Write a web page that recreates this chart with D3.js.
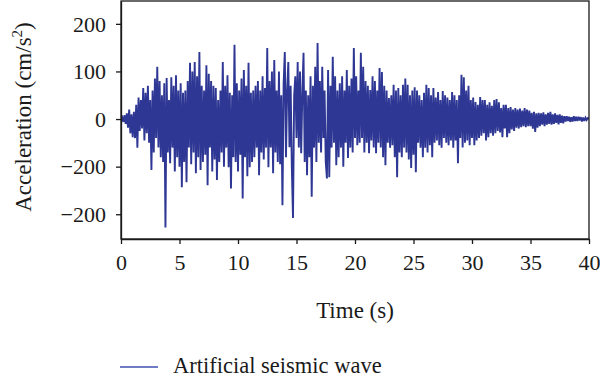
<!DOCTYPE html>
<html>
<head>
<meta charset="utf-8">
<script src="https://cdn.jsdelivr.net/npm/d3@7"></script>
<style>
  html, body { margin: 0; padding: 0; background: #fff; }
  svg { display: block; }
  text { font-family: "Liberation Serif", "DejaVu Serif", serif; fill: #1a1a1a; }
</style>
</head>
<body>
<svg id="chart" width="600" height="382"></svg>
<script>
const timeStep = 0.1;
const accel = [
  /* 0s */  0, 4, -6, 8, -10, 12, -18, 20, -30, 10,
  /* 1s */  -38, 15, -40, 30, -60, 45, -25, 40, -20, 65,
  /* 2s */  -45, 55, -30, 70, -50, 40, -107, 60, -70, 85,
  /* 3s */  -40, 110, -60, 80, -80, 50, -90, 75, -228, 86,
  /* 4s */  -70, 40, -93, 88, -60, 70, -110, 92, -80, 60,
  /* 5s */  -100, 75, -143, 55, -90, 60, -133, 80, -60, 118,
  /* 6s */  -95, 100, -70, 120, -114, 90, -80, 141, -107, 70,
  /* 7s */  -90, 60, -75, 113, -139, 95, -60, 80, -110, 70,
  /* 8s */  -85, 65, -128, 40, -90, 60, -70, 120, -100, 70,
  /* 9s */  -60, 92, -101, 55, -146, 50, -80, 156, -90, 75,
  /* 10s */ -110, 60, -75, 85, -167, 103, -80, 70, -120, 118,
  /* 11s */ -101, 55, -90, 60, -80, 70, -60, 80, -118, 60,
  /* 12s */ -70, 90, -85, 65, -60, 149, -101, 80, -60, 100,
  /* 13s */ -114, 124, -70, 60, -90, 100, -95, 50, -181, 75,
  /* 14s */ 141, -80, 60, 120, -59, 70, -100, -208, 50, 90,
  /* 15s */ -40, 120, -60, 100, -72, 55, 139, -90, 60, -118,
  /* 16s */ 50, -80, 90, -163, 70, -60, 110, -90, 160, -50,
  /* 17s */ 80, -70, 110, -40, 60, -90, -125, 103, -122, 70,
  /* 18s */ -60, 131, -50, 90, -97, 60, -80, 75, -60, 90,
  /* 19s */ -100, 60, -50, 103, -82, 70, -60, 85, -70, 149,
  /* 20s */ -40, 90, -55, 60, -50, 139, -40, 110, -70, 80,
  /* 21s */ -50, 70, -72, 61, -45, 90, -60, 80, -72, 60,
  /* 22s */ -50, 107, -60, 99, -80, 70, -97, 60, -50, 44,
  /* 23s */ -60, 50, -55, 72, -80, 60, -122, 65, -70, 50,
  /* 24s */ -80, 72, -60, 85, -70, 72, -85, 50, -103, 60,
  /* 25s */ -75, 67, -112, 60, -50, 50, -60, 40, -80, 55,
  /* 26s */ -60, 72, -70, 65, -55, 50, -80, 65, -50, 45,
  /* 27s */ -45, 57, -55, 40, -60, 59, -40, 50, -50, 45,
  /* 28s */ -55, 40, -45, 57, -60, 50, -45, 40, -93, 50,
  /* 29s */ -40, 93, -60, 88, -50, 60, -45, 70, -55, 40,
  /* 30s */ -40, 45, -55, 36, -45, 30, -40, 46, -35, 40,
  /* 31s */ -30, 40, -45, 30, -38, 35, -30, 28, -35, 40,
  /* 32s */ -30, 42, -25, 35, -28, 23, -38, 30, -20, 30,
  /* 33s */ -38, 23, -30, 25, -22, 20, -25, 23, -18, 20,
  /* 34s */ -20, 22, -17, 18, -15, 23, -17, 20, -15, 18,
  /* 35s */ -15, 13, -20, 15, -27, 12, -18, 13, -15, 12,
  /* 36s */ -12, 14, -15, 10, -12, 13, -10, 15, -12, 10,
  /* 37s */ -10, 12, -8, 9, -11, 10, -8, 7, -9, 6,
  /* 38s */ -5, 6, -4, 5, -6, 4, -5, 6, -4, 5,
  /* 39s */ -4, 5, -3, 4, -5, 3, -4, 3, -2, 2,
  /* 40s */ 0
];
const xTicks = [0, 5, 10, 15, 20, 25, 30, 35, 40];
const yTicks = [200, 100, 0, -100, -200];
const yTickLabels = ["200", "100", "0", "\u2212200", "\u2212200"];
const xTitle = "Time (s)";
const yTitle = "Acceleration (cm/s";
const yTitleSup = "2";
const legendLabel = "Artificial seismic wave";

// ---- layout ----
const lineColor = "#2e3794";
const inkColor = "#1a1a1a";
const serif = "Liberation Serif";
const svg = d3.select("#chart");
const pLeft = 121, pRight = 589, pTop = 1, pBottom = 239;
const x = d3.scaleLinear().domain([0, 40]).range([pLeft, pRight]);
const y = d3.scaleLinear().domain([-252, 248]).range([pBottom, pTop]);

const series = accel.map((v, i) => ({ t: i * timeStep, a: v }));

svg.append("defs").append("clipPath").attr("id", "clip")
  .append("rect").attr("x", pLeft).attr("y", pTop).attr("width", pRight - pLeft).attr("height", pBottom - pTop);

svg.append("path")
  .datum(series)
  .attr("clip-path", "url(#clip)")
  .attr("fill", "none")
  .attr("stroke", lineColor)
  .attr("stroke-width", 1.9)
  .attr("stroke-linejoin", "miter")
  .attr("stroke-miterlimit", 3)
  .attr("d", d3.line().x(d => x(d.t)).y(d => y(d.a)));

// frame
svg.append("rect")
  .attr("x", pLeft).attr("y", pTop)
  .attr("width", pRight - pLeft).attr("height", pBottom - pTop)
  .attr("fill", "none").attr("stroke", inkColor).attr("stroke-width", 1.3);

// axes
const xAxis = d3.axisBottom(x).tickValues(xTicks).tickSize(5).tickSizeOuter(0).tickFormat(d3.format("d"));
const gx = svg.append("g").attr("transform", `translate(0,${pBottom})`).call(xAxis)
  .attr("font-family", serif).attr("font-size", 22);
gx.select(".domain").attr("stroke", inkColor).attr("stroke-width", 1.3);
gx.selectAll(".tick line").attr("stroke", inkColor).attr("stroke-width", 1.3);
gx.selectAll(".tick text")
  .attr("y", 31).attr("dy", null)
  .attr("fill", inkColor);

const yAxis = d3.axisLeft(y).tickValues(yTicks).tickSize(5).tickSizeOuter(0)
  .tickFormat((d, i) => yTickLabels[i]);
const gy = svg.append("g").attr("transform", `translate(${pLeft},0)`).call(yAxis)
  .attr("font-family", serif).attr("font-size", 22);
gy.select(".domain").attr("stroke", inkColor).attr("stroke-width", 1.3);
gy.selectAll(".tick line").attr("stroke", inkColor).attr("stroke-width", 1.3);
gy.selectAll(".tick text")
  .attr("x", -15).attr("dy", "0.33em")
  .attr("fill", inkColor);

// axis titles
svg.append("text")
  .attr("x", (pLeft + pRight) / 2).attr("y", 318)
  .attr("text-anchor", "middle")
  .attr("font-family", serif)
  .style("font-size", "23px")
  .text(xTitle);

const yt = svg.append("text")
  .attr("transform", "translate(31,117) rotate(-90)")
  .attr("text-anchor", "middle")
  .attr("font-family", serif)
  .style("font-size", "23px");
yt.append("tspan").text(yTitle);
yt.append("tspan").attr("dy", -9).style("font-size", "15px").text(yTitleSup);
yt.append("tspan").attr("dy", 9).text(")");

// legend
svg.append("line")
  .attr("x1", 120).attr("x2", 158).attr("y1", 367).attr("y2", 367)
  .attr("stroke", "#3f51b0").attr("stroke-width", 1.5);
svg.append("text")
  .attr("x", 173).attr("y", 373)
  .attr("font-family", serif)
  .style("font-size", "22.5px")
  .text(legendLabel);
</script>
</body>
</html>
